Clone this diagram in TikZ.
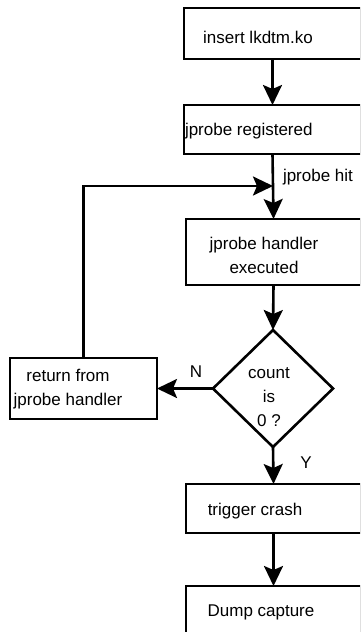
\documentclass[tikz,border=0pt]{standalone}
\usepackage{fontspec}
\setmainfont{Liberation Sans}
\usetikzlibrary{arrows.meta,shapes.geometric}
\begin{document}
\begin{tikzpicture}[x=1pt,y=-1pt,
  every node/.style={inner sep=0pt,outer sep=0pt},
  box/.style={draw,line width=2.6pt,rectangle},
  txt/.style={font=\fontsize{17}{24}\selectfont,align=center},
  flow/.style={line width=2.6pt,-{Stealth[length=20pt,width=19pt,inset=4pt]}},
  plain/.style={line width=2.6pt}]
\useasboundingbox (0,0) rectangle (360,632);
\clip (0,0) rectangle (360,632);
% process boxes (the right-hand column runs up to the page edge)
\node[box,minimum width=177pt,minimum height=51pt] (b1) at (272.5,33.5) {};
\node[box,minimum width=177pt,minimum height=49pt] (b2) at (272.5,129.5) {};
\node[box,minimum width=175pt,minimum height=66pt] (b3) at (273.5,252) {};
\node[box,minimum width=175pt,minimum height=49pt] (b4) at (273.5,508.5) {};
\node[box,minimum width=175pt,minimum height=70pt] (b5) at (273.5,621) {};
\node[box,minimum width=147pt,minimum height=61pt] (ret) at (83.5,388.5) {};
\node[draw,line width=2.6pt,diamond,minimum width=120pt,minimum height=117pt] (dec) at (273,388.5) {};
% texts
\node[txt] (t1) at (258,37) {insert lkdtm.ko};
\node[txt,anchor=west] (t2) at (185,131) {jprobe registered};
\node[txt] (t3) at (264,255) {jprobe handler\\executed};
\node[txt] (t4) at (269,397) {count\\is\\0 ?};
\node[txt] (t5) at (68,389) {return from\\jprobe handler};
\node[txt] (t6) at (255,511) {trigger crash};
\node[txt] (t7) at (261,612) {Dump capture};
% connector labels
\node[txt,anchor=west] (lhit) at (283,177) {jprobe hit};
\node[txt] (ln) at (196,372) {N};
\node[txt] (ly) at (306,463) {Y};
% connectors
\coordinate (join) at (273,186);
\draw[flow] (b1.south) -- (b2.north);
\draw[flow] (b2.south) -- (b3.north);
\draw[flow] (b3.south) -- (dec.north);
\draw[flow] (dec.west) -- (ret.east);
\draw[flow] (ret.north) |- (join);
\draw[flow] (dec.south) -- (b4.north);
\draw[flow] (b4.south) -- (b5.north);
\end{tikzpicture}
\end{document}
